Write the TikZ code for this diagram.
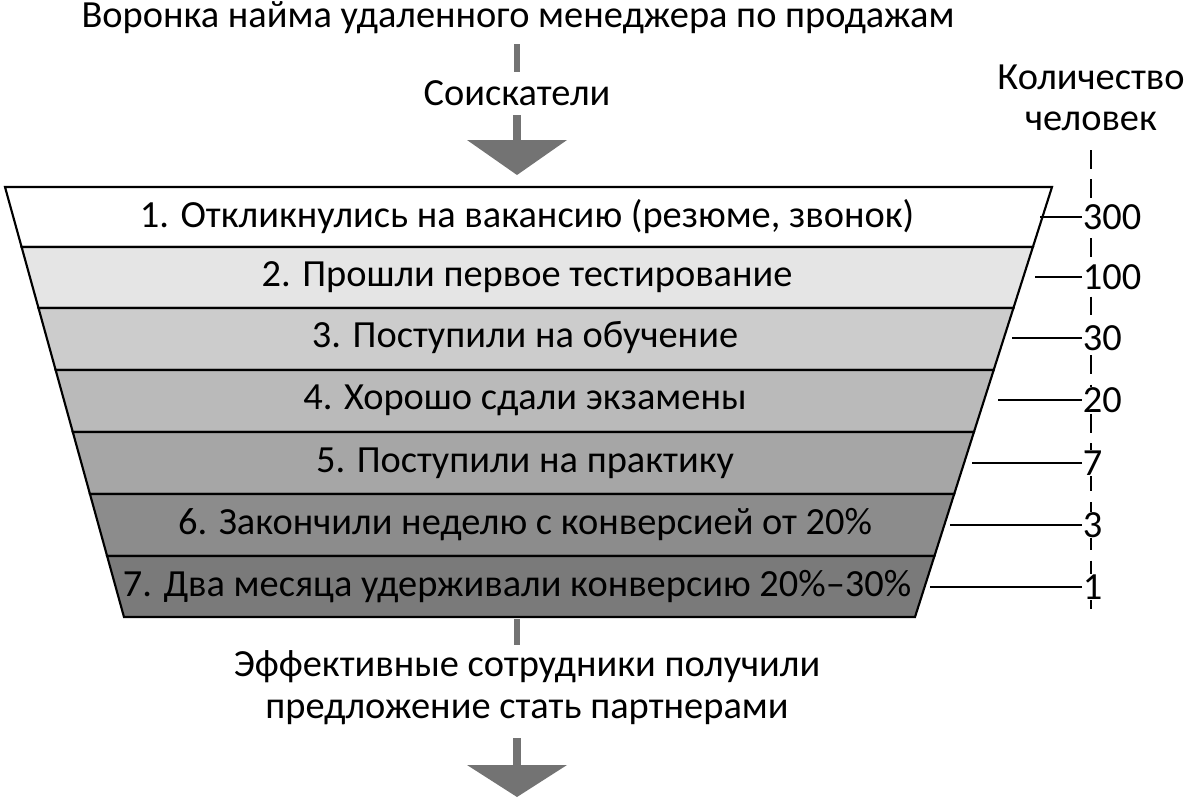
\documentclass[tikz,border=0pt]{standalone}
\usepackage{fontspec}
\setmainfont{Carlito}
\begin{document}
\begin{tikzpicture}[x=0.75pt,y=-0.75pt,
  txt/.style={font=\fontsize{28.8}{32}\selectfont, inner sep=0pt},
  num/.style={font=\fontsize{28.8}{32}\selectfont, inner sep=0.5pt, fill=white, anchor=west},
  band/.style={draw=black, line width=1.6pt},
  tick/.style={line width=1.3pt},
  garrow/.style={fill=black!55, draw=none}]
\useasboundingbox (0,0) rectangle (1186,797);
\def\L#1{5+0.2767*(#1-187)}
\def\R#1{1052-0.3186*(#1-187)}
\foreach \a/\b/\c/\i in {187/247/white/1,247/308/black!10/2,308/370/black!20/3,370/432/black!27/4,432/494/black!35/5,494/556/black!45/6,556/617/black!52/7}{
  \fill[\c] ({\L\a},\a) -- ({\R\a},\a) -- ({\R\b},\b) -- ({\L\b},\b) -- cycle;
  \draw[band] ({\L\a},\a) -- ({\R\a},\a) -- ({\R\b},\b) -- ({\L\b},\b) -- cycle;
}
\node[txt] (title) at (518,18) {Воронка найма удаленного менеджера по продажам};
\node[txt] (in) at (517,93) {Соискатели};
\draw[line width=4pt, black!55] (517,44) -- (517,72);
\fill[garrow] (513,115) rectangle (521,141);
\fill[garrow] (467,140) -- (567,140) -- (517,175) -- cycle;
\node[txt] (b1) at (527,217) {1. Откликнулись на вакансию (резюме, звонок)};
\node[txt] (b2) at (527,277) {2. Прошли первое тестирование};
\node[txt] (b3) at (525,338) {3. Поступили на обучение};
\node[txt] (b4) at (525,400) {4. Хорошо сдали экзамены};
\node[txt] (b5) at (525,463) {5. Поступили на практику};
\node[txt] (b6) at (525,525) {6. Закончили неделю с конверсией от 20\%};
\node[txt] (b7) at (517,587) {7. Два месяца удерживали конверсию 20\%–30\%};
\draw[line width=4pt, black!55] (517,619) -- (517,645);
\node[txt] (o1) at (527,667) {Эффективные сотрудники получили};
\node[txt] (o2) at (527,712) {предложение стать партнерами};
\fill[garrow] (513,738) rectangle (521,766);
\fill[garrow] (467,765) -- (567,765) -- (517,797) -- cycle;
\node[txt] (q1) at (1091,77) {Количество};
\node[txt] (q2) at (1091,121) {человек};
\draw[line width=1.2pt, dash pattern=on 14pt off 8pt] (1091,150) -- (1091,617);
\foreach \i/\y/\n/\x in {1/217/300/1040,2/277/100/1035,3/338/30/1012,4/400/20/998,5/463/7/972,6/525/3/950,7/587/1/930}{
  \node[num] (n\i) at (1082,\y) {\n};
  \coordinate (t\i) at (\x,\y);
  \draw[tick] (t\i) -- (n\i.west);
}
\end{tikzpicture}
\end{document}
